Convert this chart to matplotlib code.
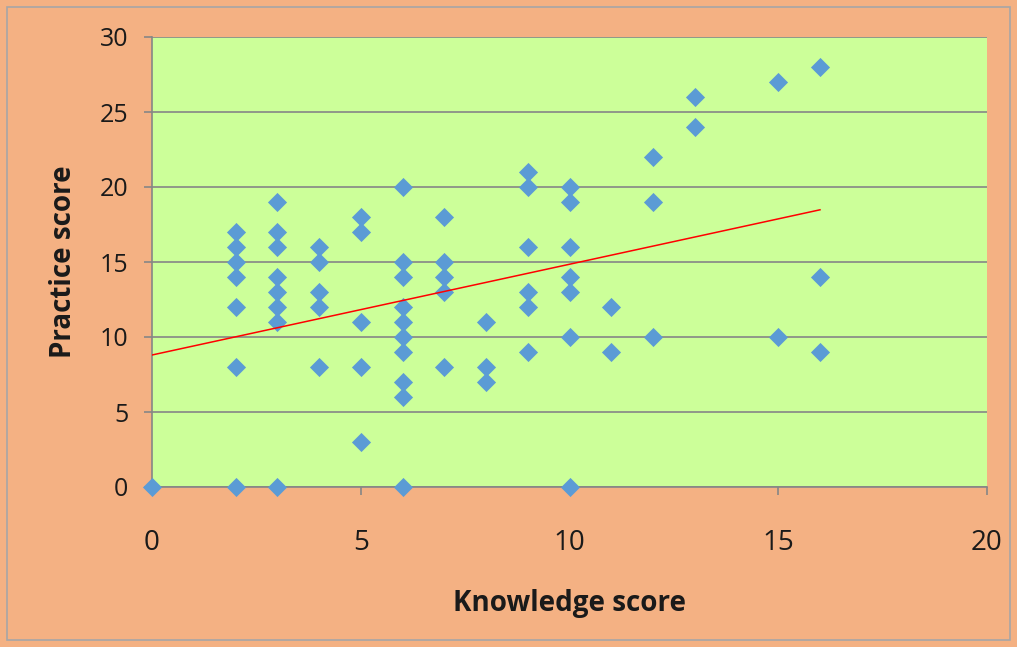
import numpy as np
import matplotlib.pyplot as plt
from matplotlib.patches import Rectangle

# knowledge score (x) and practice score (y), one column of points per x value
knowledge = ([0] + [2] * 7 + [3] * 8 + [4] * 5 + [5] * 5 + [6] * 10 + [7] * 5
             + [8] * 3 + [9] * 6 + [10] * 7 + [11] * 2 + [12] * 3 + [13] * 2
             + [15] * 2 + [16] * 3)
practice = ([0]
            + [17, 16, 15, 14, 12, 8, 0]
            + [19, 17, 16, 14, 13, 12, 11, 0]
            + [16, 15, 13, 12, 8]
            + [18, 17, 11, 8, 3]
            + [20, 15, 14, 12, 11, 10, 9, 7, 6, 0]
            + [18, 15, 14, 13, 8]
            + [11, 8, 7]
            + [21, 20, 16, 13, 12, 9]
            + [20, 19, 16, 14, 13, 10, 0]
            + [12, 9]
            + [22, 19, 10]
            + [26, 24]
            + [27, 10]
            + [28, 14, 9])

# linear trendline as shown in the chart
trend_intercept = 8.8
trend_slope = 0.605

x_ticks = [0, 5, 10, 15, 20]
y_ticks = [0, 5, 10, 15, 20, 25, 30]

plt.rcParams['font.family'] = ['Open Sans', 'DejaVu Sans']

fig = plt.figure(figsize=(10.17, 6.47), dpi=100)
fig.patch.set_facecolor('#F4B183')
ax = fig.add_axes([152 / 1017, 1 - 487 / 647, (987 - 152) / 1017, (487 - 37) / 647])
ax.set_facecolor('#CCFF99')

# outer chart border
fig.patches.append(Rectangle((7 / 1017, 7 / 647), 1003 / 1017, 633 / 647,
                             transform=fig.transFigure, fill=False,
                             edgecolor='#A6A6A6', lw=1.2))

ax.scatter(knowledge, practice, marker='D', s=95, color='#5B9BD5',
           zorder=3, clip_on=False, linewidths=0)

xs = np.array([0, max(knowledge)])
ax.plot(xs, trend_slope * xs + trend_intercept, color='#FF0000', lw=1.1, zorder=4)

ax.set_xlim(0, 20)
ax.set_ylim(0, 30)
ax.set_xticks(x_ticks)
ax.set_yticks(y_ticks)
ax.yaxis.grid(True, color='#868686', lw=1.2)
ax.set_axisbelow(True)
for side in ['top', 'right']:
    ax.spines[side].set_visible(False)
for side in ['left', 'bottom']:
    ax.spines[side].set_color('#868686')
    ax.spines[side].set_linewidth(1.2)
ax.tick_params(axis='y', length=6, color='#868686', width=1.2, pad=11,
               labelsize=18, labelcolor='#1a1a1a')
ax.tick_params(axis='x', length=6, color='#868686', width=1.2, pad=24,
               labelsize=20, labelcolor='#1a1a1a')

ax.set_xlabel('Knowledge score', fontsize=20, fontweight='bold', color='#1a1a1a')
ax.set_ylabel('Practice score', fontsize=20, fontweight='bold', color='#1a1a1a')
ax.xaxis.set_label_coords(0.5, -0.227)
ax.yaxis.set_label_coords(-0.089, 0.5)

fig.savefig('out.png', dpi=100, facecolor=fig.get_facecolor())
